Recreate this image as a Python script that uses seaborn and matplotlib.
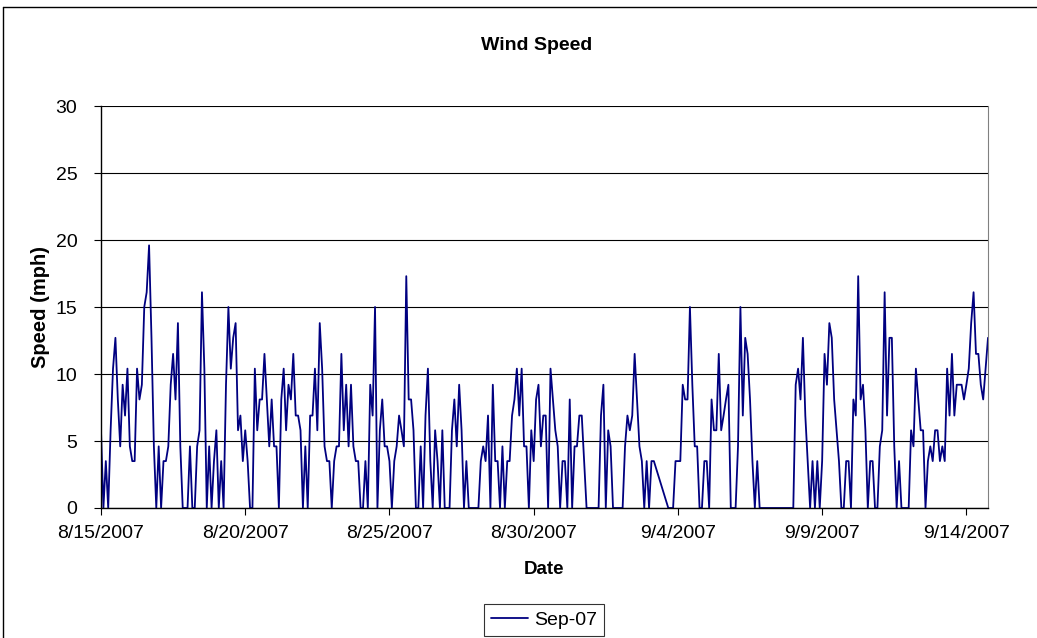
import numpy as np
import pandas as pd
import seaborn as sns
import matplotlib.pyplot as plt
from matplotlib.lines import Line2D

nan = np.nan

# wind speed (mph), one reading every 2 hours from 8/15/2007 00:00
aug15_21 = [5.8, 0, 3.5, 0, 5.8, 10.4, 12.7, 8.1, 4.6, 9.2, 6.9, 10.4,
            4.6, 3.5, 3.5, 10.4, 8.1, 9.2, 15.0, 16.1, 19.6, 12.7, 4.6, 0,
            4.6, 0, 3.5, 3.5, 4.6, 9.2, 11.5, 8.1, 13.8, 4.6, 0, 0,
            0, 4.6, 0, 0, 4.6, 5.8, 16.1, 10.4, 0, 4.6, 0, 3.5,
            5.8, 0, 3.5, 0, 9.2, 15.0, 10.4, 12.7, 13.8, 5.8, 6.9, 3.5,
            5.8, 3.5, 0, 0, 10.4, 5.8, 8.1, 8.1, 11.5, 8.1, 4.6, 8.1,
            4.6, 4.6, 0, 8.1, 10.4, 5.8, 9.2, 8.1, 11.5, 6.9, 6.9, 5.8]
aug22_28 = [0, 4.6, 0, 6.9, 6.9, 10.4, 5.8, 13.8, 10.4, 4.6, 3.5, 3.5,
            0, 3.5, 4.6, 4.6, 11.5, 5.8, 9.2, 4.6, 9.2, 4.6, 3.5, 3.5,
            0, 0, 3.5, 0, 9.2, 6.9, 15.0, 0, 5.8, 8.1, 4.6, 4.6,
            3.5, 0, 3.5, 4.6, 6.9, 5.8, 4.6, 17.3, 8.1, 8.1, 5.8, 0,
            0, 4.6, 0, 6.9, 10.4, 3.5, 0, 5.8, 3.5, 0, 5.8, 0,
            0, 0, 5.8, 8.1, 4.6, 9.2, 5.8, 0, 3.5, 0, 0, 0,
            0, 0, 3.5, 4.6, 3.5, 6.9, 0, 9.2, 3.5, 3.5, 0, 4.6]
aug29_sep4 = [0, 3.5, 3.5, 6.9, 8.1, 10.4, 6.9, 10.4, 4.6, 4.6, 0, 5.8,
              3.5, 8.1, 9.2, 4.6, 6.9, 6.9, 0, 10.4, 8.1, 5.8, 4.6, 0,
              3.5, 3.5, 0, 8.1, 0, 4.6, 4.6, 6.9, 6.9, 3.5, 0, 0,
              0, 0, 0, 0, 6.9, 9.2, 0, 5.8, 4.6, 0, 0, 0,
              0, 0, 4.6, 6.9, 5.8, 6.9, 11.5, 8.1, 4.6, 3.5, 0, 3.5,
              0, 3.5, 3.5, nan, nan, nan, nan, nan, 0, 0, 0, 3.5,
              3.5, 3.5, 9.2, 8.1, 8.1, 15.0, 9.2, 4.6, 4.6, 0, 0, 3.5]
sep5_11 = [3.5, 0, 8.1, 5.8, 5.8, 11.5, 5.8, 6.9, 8.1, 9.2, 0, 0,
           0, 4.6, 15.0, 6.9, 12.7, 11.5, 8.1, 3.5, 0, 3.5, 0, 0,
           0, 0, 0, 0, 0, 0, 0, 0, 0, 0, 0, 0,
           0, 9.2, 10.4, 8.1, 12.7, 6.9, 3.5, 0, 3.5, 0, 3.5, 0,
           3.5, 11.5, 9.2, 13.8, 12.7, 8.1, 5.8, 3.5, 0, 0, 3.5, 3.5,
           0, 8.1, 6.9, 17.3, 8.1, 9.2, 5.8, 0, 3.5, 3.5, 0, 0,
           4.6, 5.8, 16.1, 6.9, 12.7, 12.7, 4.6, 0, 3.5, 0, 0, 0]
sep12_14 = [0, 5.8, 4.6, 10.4, 8.1, 5.8, 5.8, 0, 3.5, 4.6, 3.5, 5.8,
            5.8, 3.5, 4.6, 3.5, 10.4, 6.9, 11.5, 6.9, 9.2, 9.2, 9.2, 8.1,
            9.2, 10.4, 13.8, 16.1, 11.5, 11.5, 9.2, 8.1, 10.4, 12.7]

tick_dates = ['2007-08-15', '2007-08-20', '2007-08-25', '2007-08-30',
              '2007-09-04', '2007-09-09', '2007-09-14']
tick_labels = ['8/15/2007', '8/20/2007', '8/25/2007', '8/30/2007',
               '9/4/2007', '9/9/2007', '9/14/2007']

speed = aug15_21 + aug22_28 + aug29_sep4 + sep5_11 + sep12_14
df = pd.DataFrame({'Date': pd.date_range('2007-08-15', periods=len(speed), freq='2h'),
                   'Speed': speed})

sns.set_style('white')
plt.rcParams['font.family'] = ['Liberation Sans', 'DejaVu Sans']
plt.rcParams['text.color'] = 'black'
plt.rcParams['xtick.color'] = 'black'
plt.rcParams['ytick.color'] = 'black'

fig = plt.figure(figsize=(10.37, 6.38), dpi=100)
ax = fig.add_axes([101 / 1037, 1 - 508 / 638, 887 / 1037, 402 / 638])

sns.lineplot(data=df, x='Date', y='Speed', color='#000080', linewidth=1.3,
             estimator=None, label='Sep-07', ax=ax)

ax.set_ylim(0, 30)
ax.set_yticks(range(0, 31, 5))
ax.set_xlim(df['Date'].iloc[0], df['Date'].iloc[-1])
ax.set_xticks(pd.to_datetime(tick_dates))
ax.set_xticklabels(tick_labels)
ax.yaxis.grid(True, color='black', linewidth=0.8)
ax.xaxis.grid(False)
ax.tick_params(axis='both', labelsize=14, length=5, width=0.8, color='black',
               labelcolor='black', direction='out', bottom=True, left=True)
ax.tick_params(axis='x', pad=7)
ax.tick_params(axis='y', pad=12)
ax.spines['top'].set_visible(False)
ax.spines['right'].set_color('#808080')
for s in ['left', 'bottom']:
    ax.spines[s].set_color('black')
    ax.spines[s].set_linewidth(1.0)
ax.set_xlabel('')
ax.set_ylabel('')

fig.text(537 / 1037, 1 - 45 / 638, 'Wind Speed', ha='center', va='center',
         fontsize=14, fontweight='bold', color='black')
fig.text(544 / 1037, 1 - 570 / 638, 'Date', ha='center', va='center',
         fontsize=13.5, fontweight='bold', color='black')
fig.text(40 / 1037, 1 - 307 / 638, 'Speed (mph)', ha='center', va='center',
         rotation=90, fontsize=14.5, fontweight='bold', color='black')

leg = ax.legend(loc='center', bbox_to_anchor=(544 / 1037, 1 - 620 / 638),
                bbox_transform=fig.transFigure, frameon=True, fancybox=False,
                edgecolor='black', fontsize=14, handlelength=1.9,
                borderpad=0.35, handletextpad=0.3, borderaxespad=0)
leg.get_frame().set_linewidth(0.8)
for t in leg.get_texts():
    t.set_color('black')

# chart area border
fig.add_artist(Line2D([3 / 1037, 1], [1 - 7 / 638] * 2, color='black', linewidth=1))
fig.add_artist(Line2D([3 / 1037] * 2, [0, 1 - 7 / 638], color='black', linewidth=1))

fig.savefig('out.png', dpi=100)
